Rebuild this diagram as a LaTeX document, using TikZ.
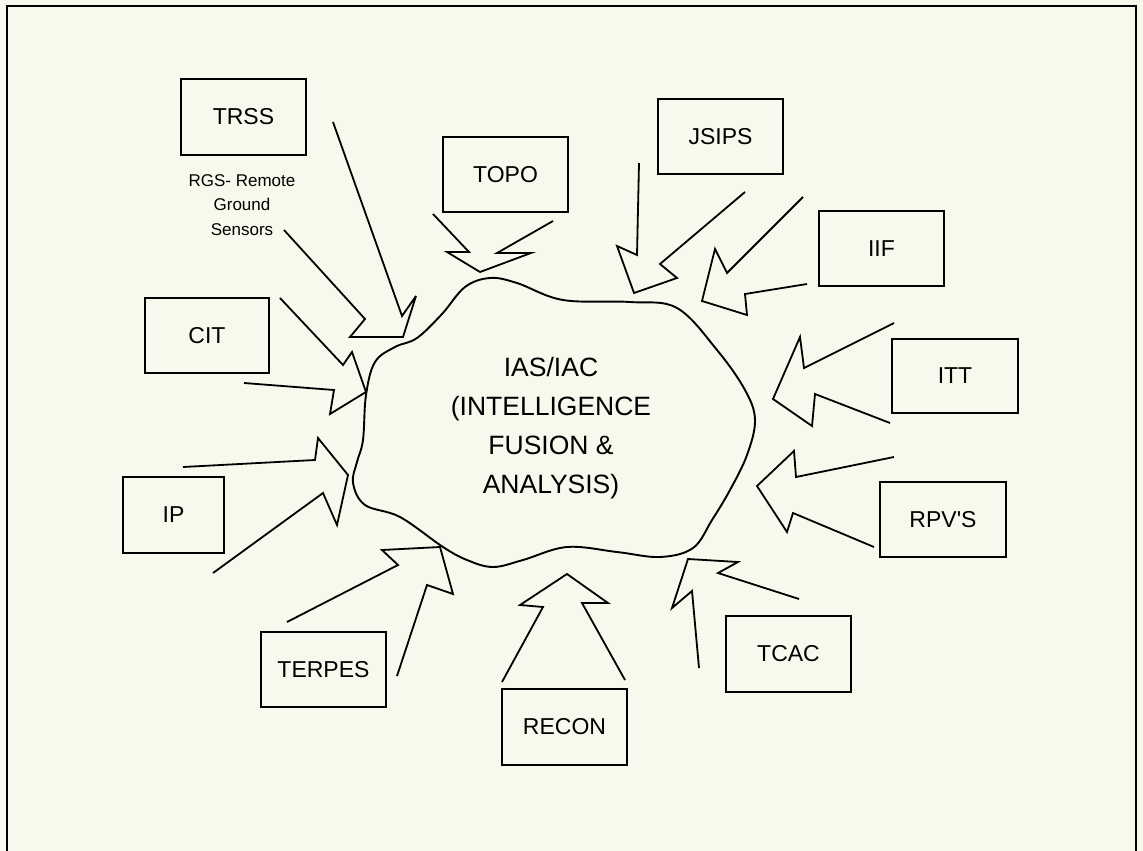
\documentclass[tikz,border=0pt]{standalone}
\usepackage{fontspec}
\setmainfont{Liberation Sans}
% straight apostrophe, bypassing the TeX quote mapping
\newcommand{\straightquote}{\XeTeXglyph\XeTeXcharglyph"0027\relax}
\begin{document}
\begin{tikzpicture}[x=1pt,y=-1pt,
  line width=1.6pt, line join=miter,
  src/.style={draw, line width=1.6pt, inner sep=0pt, font=\fontsize{23}{23}\selectfont},
  bigarrow/.style={draw, line width=1.8pt, line join=miter, miter limit=6},
  hub/.style={align=center, font=\fontsize{26.5}{39}\selectfont},
  note/.style={align=center, font=\fontsize{17}{24.5}\selectfont}]
\definecolor{paper}{RGB}{248,248,236}
% page and outer frame (open at the bottom)
\fill[paper] (0,0) rectangle (1143,851);
\useasboundingbox (0,0) rectangle (1143,851);
\draw[line width=1.9pt] (7,851) -- (7,6) -- (1136,6) -- (1136,851);

% central cloud
\draw[line width=1.9pt] plot[smooth cycle, tension=0.6] coordinates {
  (490,278) (517,283) (563,300) (630,302) (677,308) (717,350) (745,390)
  (755,420) (747,455) (730,490) (712,520) (693,548) (660,557) (617,552)
  (567,547) (523,560) (493,567) (467,560) (443,547) (400,517) (365,505)
  (353,483) (357,462) (363,440) (366,395) (375,362) (395,347) (417,338)
  (442,314) (465,287)};
\node[hub] (hub) at (551,428) {IAS/IAC\\(INTELLIGENCE\\FUSION \&\\ANALYSIS)};

% source boxes
\node[src, minimum width=125pt, minimum height=76pt] (trss)   at (243.5,117) {TRSS};
\node[src, minimum width=125pt, minimum height=75pt] (topo)   at (505.5,174.5) {TOPO};
\node[src, minimum width=125pt, minimum height=75pt] (jsips)  at (720.5,136.5) {JSIPS};
\node[src, minimum width=125pt, minimum height=75pt] (iif)    at (881.5,248.5) {IIF};
\node[src, minimum width=126pt, minimum height=74pt] (itt)    at (955,376) {ITT};
\node[src, minimum width=126pt, minimum height=75pt] (rpvs)   at (943,519.5) {RPV\straightquote S};
\node[src, minimum width=125pt, minimum height=76pt] (tcac)   at (788.5,654) {TCAC};
\node[src, minimum width=125pt, minimum height=76pt] (recon)  at (564.5,727) {RECON};
\node[src, minimum width=125pt, minimum height=75pt] (terpes) at (323.5,669.5) {TERPES};
\node[src, minimum width=124pt, minimum height=75pt] (cit)    at (207,335.5) {CIT};
\node[src, minimum width=101pt, minimum height=76pt] (ip)     at (173.5,515) {IP};
\node[note] (rgs) at (242,205) {RGS- Remote\\Ground\\Sensors};

% open block arrows: tail, notch, barb, tip, barb, notch, tail
\draw[bigarrow] (333,122) -- (402,316) -- (416,296) -- (403,337) -- (350,337) -- (365,319) -- (284,230);
\draw[bigarrow] (433,214) -- (469,252) -- (447,252) -- (480,272) -- (531,253) -- (497,253) -- (553,221);
\draw[bigarrow] (639,163) -- (637,255) -- (617,246) -- (634,293) -- (677,278) -- (660,264) -- (745,192);
\draw[bigarrow] (803,197) -- (727,273) -- (715,249) -- (702,301) -- (747,315) -- (745,294) -- (807,284);
\draw[bigarrow] (894,323) -- (804,368) -- (800,337) -- (773,399) -- (812,426) -- (815,394) -- (890,423);
\draw[bigarrow] (894,457) -- (796,477) -- (794,451) -- (757,486) -- (787,532) -- (793,513) -- (874,547);
\draw[bigarrow] (799,599) -- (718,573) -- (738,562) -- (688,559) -- (672,608) -- (692,591) -- (699,668);
\draw[bigarrow] (502,682) -- (543,607) -- (520,605) -- (567,574) -- (608,603) -- (582,603) -- (625,680);
\draw[bigarrow] (287,622) -- (398,565) -- (382,550) -- (440,547) -- (453,594) -- (427,585) -- (397,676);
\draw[bigarrow] (183,467) -- (315,460) -- (318,438) -- (348,475) -- (337,525) -- (323,493) -- (213,573);
\draw[bigarrow] (280,298) -- (343,365) -- (352,352) -- (366,392) -- (330,414) -- (334,390) -- (244,383);
\end{tikzpicture}
\end{document}
